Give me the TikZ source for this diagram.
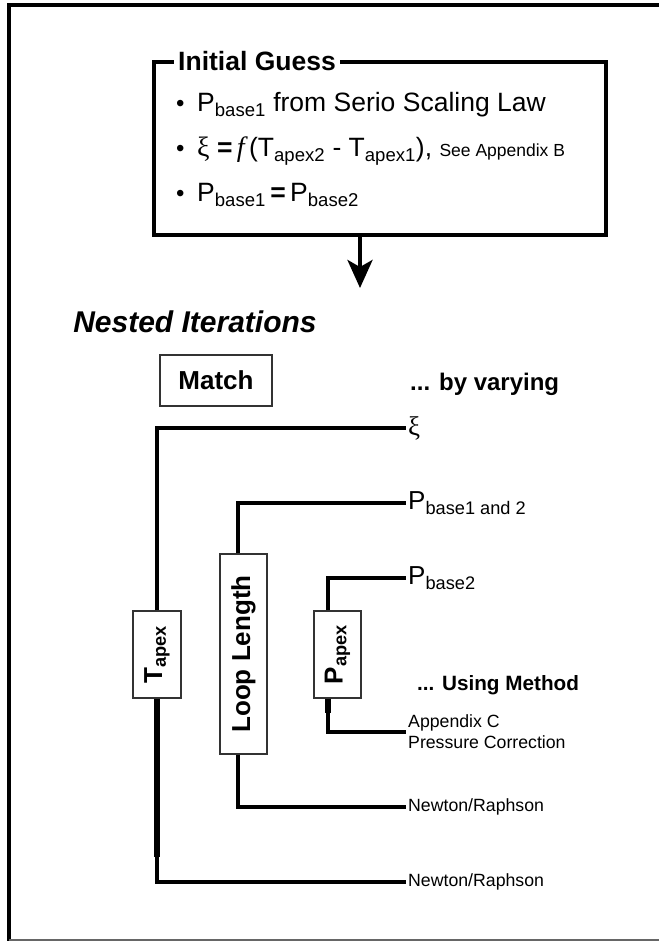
\documentclass[tikz,border=0pt]{standalone}
\usepackage{amsmath}
\usepackage{fontspec}
\setmainfont{Liberation Sans}
\newfontfamily\greekserif{Liberation Serif}
\usetikzlibrary{arrows.meta,positioning,calc}

\newcommand{\setpx}[1]{\fontsize{#1}{#1}\selectfont}
\newcommand{\dotitem}{\makebox[21pt][l]{\setpx{24}•}}

\begin{document}
\begin{tikzpicture}[x=1pt, y=-1pt,
    guessbox/.style={draw, line width=4pt, minimum width=452pt, minimum height=173pt, inner sep=0pt},
    itembox/.style={draw=black!80, line width=1.2pt, fill=white, inner sep=0pt, font=\bfseries\setpx{26}},
    bulletline/.style={anchor=base west, inner sep=0pt, font=\setpx{26.5}},
    tag/.style={anchor=west, inner sep=2pt, align=left},
    branch/.style={line width=4pt},
    heavy/.style={line width=5.5pt},
    arrow/.style={-{Stealth[length=28pt, width=25pt, inset=7pt]}, line width=4pt}
]
\useasboundingbox (0,0) rectangle (658,941);

% outer frame
\draw[line width=4pt] (9,943) -- (9,5) -- (660,5);
\draw[black!60, line width=1.5pt] (9,940) -- (660,940);

% initial guess
\node[guessbox] (guess) at (380,148.5) {};
\node[fill=white, inner xsep=4pt, inner ysep=0pt, font=\bfseries\setpx{26.5}] (guesstitle) at (257,61) {Initial Guess};
\node[bulletline] (item1) at (176,112) {\dotitem P$_{\text{base1}}$ from Serio Scaling Law};
\node[bulletline] (item2) at (176,157) {\dotitem{\greekserif\setpx{28}ξ} \textbf{=}\,{\greekserif\itshape\setpx{28}f}\,(T$_{\text{apex2}}$ - T$_{\text{apex1}}$), {\setpx{17.5}See Appendix B}};
\node[bulletline] (item3) at (176,202) {\dotitem P$_{\text{base1}}$\,\textbf{=}\,P$_{\text{base2}}$};

\coordinate (nested) at (360,288);
\draw[arrow] (guess.south -| nested) -- (nested);

% nested iterations
\node[font=\bfseries\itshape\setpx{30}] (nestedtitle) at (195,322) {Nested Iterations};
\node[itembox, minimum width=112pt, minimum height=51pt] (match) at (216,380.5) {Match};
\node[anchor=base west, inner sep=0pt, font=\bfseries\setpx{24}] (varying) at (410,390) {... by varying};
\node[anchor=base west, inner sep=0pt, font=\bfseries\setpx{20.7}] (method) at (417,690) {... Using Method};

\node[itembox, minimum width=48pt, minimum height=87pt] (tapex) at (157,654.5) {\rotatebox{90}{T$_{\text{apex}}$}};
\node[itembox, minimum width=47pt, minimum height=200pt] (looplen) at (243.5,654) {\rotatebox{90}{Loop Length}};
\node[itembox, minimum width=47pt, minimum height=87pt] (papex) at (337.5,654.5) {\rotatebox{90}{P$_{\text{apex}}$}};

\node[tag, font=\greekserif\setpx{27}] (xi) at (406,428) {ξ};
\node[tag, font=\setpx{26}] (pboth) at (406,503) {P$_{\text{base1 and 2}}$};
\node[tag, font=\setpx{26}] (pbase2) at (406,578) {P$_{\text{base2}}$};
\node[tag, font=\setpx{17.7}] (appc) at (406,732) {Appendix C\\[3.5pt]Pressure Correction};
\node[tag, font=\setpx{17.7}] (newton1) at (406,807) {Newton/Raphson};
\node[tag, font=\setpx{17.7}] (newton2) at (406,882) {Newton/Raphson};

\coordinate (tbend) at (157,857);
\coordinate (pbend) at (328,713);

\draw[branch] (tapex.north) |- (xi.west);
\draw[heavy] (tapex.south) -- (tbend);
\draw[branch] (tbend) |- (newton2.west);

\draw[branch] ([xshift=-5.5pt]looplen.north) |- (pboth.west);
\draw[branch] ([xshift=-5.5pt]looplen.south) |- (newton1.west);

\draw[branch] ([xshift=-9.5pt]papex.north) |- (pbase2.west);
\draw[heavy] ([xshift=-9.5pt]papex.south) -- (pbend);
\draw[branch] (pbend) |- (appc.west);

\end{tikzpicture}
\end{document}
